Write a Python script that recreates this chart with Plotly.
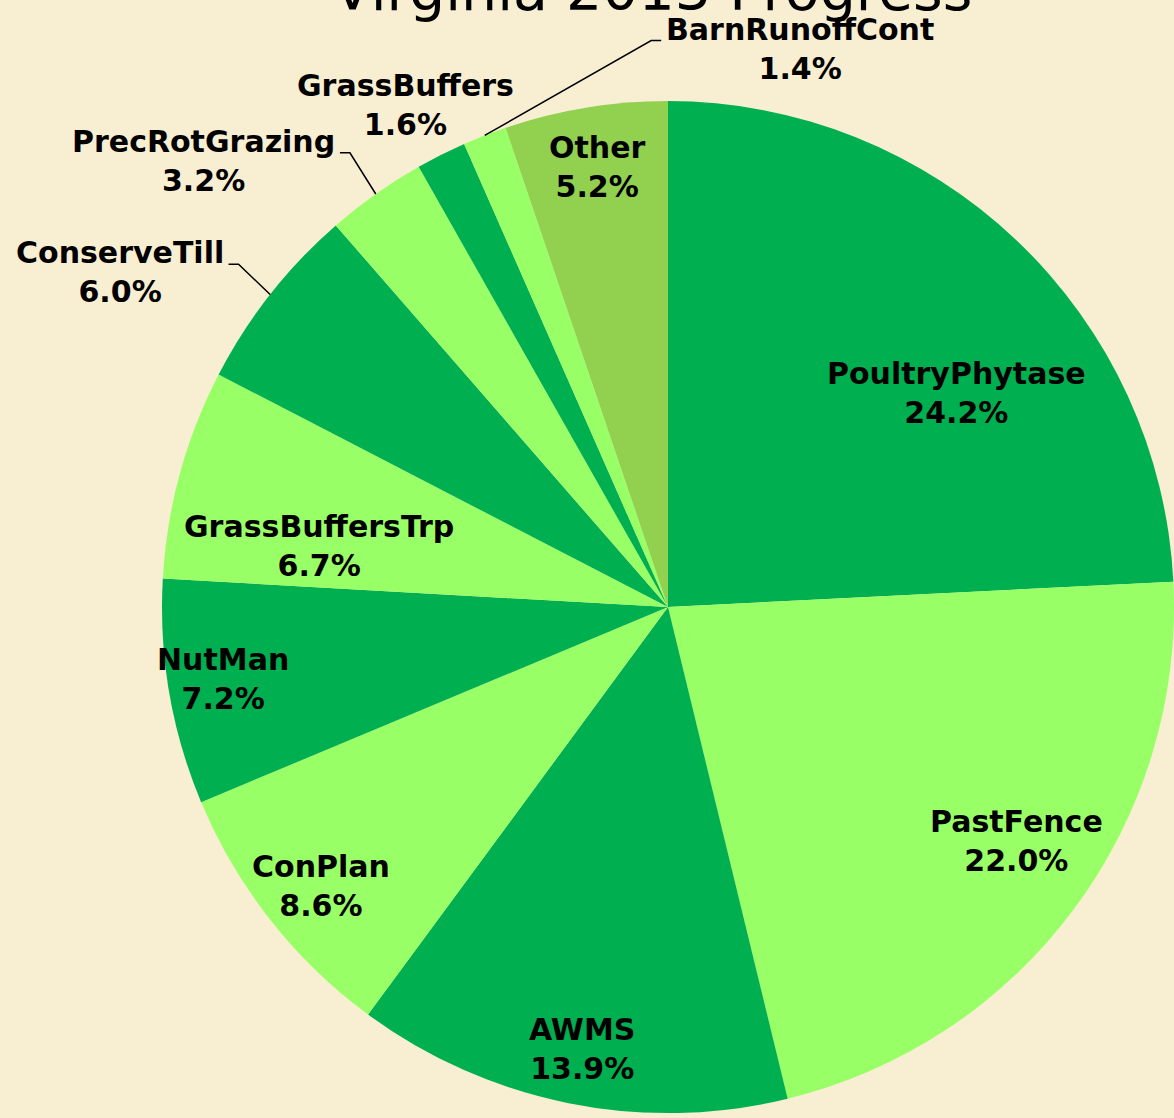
import numpy as np
import plotly.graph_objects as go

# ---------------- data ----------------
categories = ["PoultryPhytase", "PastFence", "AWMS", "ConPlan", "NutMan",
              "GrassBuffersTrp", "ConserveTill", "PrecRotGrazing",
              "GrassBuffers", "BarnRunoffCont", "Other"]
shares = [24.2, 22.0, 13.9, 8.6, 7.2, 6.7, 6.0, 3.2, 1.6, 1.4, 5.2]
title_text = "Virginia 2013 Progress"

# ---------------- style ----------------
DARK, LIGHT, OTHER = "#00B050", "#99FF66", "#92D050"
slice_colors = [DARK, LIGHT, DARK, LIGHT, DARK, LIGHT, DARK, LIGHT, DARK, LIGHT, OTHER]
BG = "#F8EED2"
FONT = "DejaVu Sans"
W, H = 1174, 1118
dom_x = [0.138, 1.0]
dom_y = [0.0, 0.914]

# label placement: (radius factor, angle nudge in degrees)
label_place = {
    "PoultryPhytase": (0.71, 9.8),
    "PastFence": (0.83, -2.9),
    "AWMS": (0.89, -0.3),
    "ConPlan": (0.88, -0.6),
    "NutMan": (0.89, 0.5),
    "GrassBuffersTrp": (0.70, -5.3),
    "GrassBuffers": (1.12, -0.9),
    "Other": (0.88, 0.2),
}
# labels with leader lines: (elbow radius factor, elbow angle deg, side)
leader_place = {
    "ConserveTill": (1.086, 308.6, -1),
    "PrecRotGrazing": (1.096, 325.0, -1),
    "BarnRunoffCont": (1.120, 358.3, 1),
}

# ---------------- geometry helpers ----------------
cx = W * (dom_x[0] + dom_x[1]) / 2
cy = H * (1 - (dom_y[0] + dom_y[1]) / 2)
R = min(W * (dom_x[1] - dom_x[0]), H * (dom_y[1] - dom_y[0])) / 2


def pt(rf, ang):
    t = np.deg2rad(ang)
    return cx + rf * R * np.sin(t), cy - rf * R * np.cos(t)


def px2paper(x, y):
    return x / W, 1 - y / H


total = sum(shares)
cum = np.cumsum(shares)
mid_angles = [(c - v / 2) / total * 360 for c, v in zip(cum, shares)]

fig = go.Figure(go.Pie(
    labels=categories, values=shares, sort=False, direction="clockwise",
    rotation=0, marker=dict(colors=slice_colors, line=dict(width=0)),
    textinfo="none", hoverinfo="label+percent", showlegend=False,
    domain=dict(x=dom_x, y=dom_y),
))

annotations = []
shapes = []
for cat, v, mid in zip(categories, shares, mid_angles):
    txt = f"<b>{cat}</b><br><b>{v / total * 100:.1f}%</b>"
    if cat in label_place:
        rf, nudge = label_place[cat]
        x, y = pt(rf, mid + nudge)
        xp, yp = px2paper(x, y)
        annotations.append(dict(x=xp, y=yp, xref="paper", yref="paper", text=txt,
                                showarrow=False, xanchor="center", yanchor="middle",
                                align="center", font=dict(family=FONT, size=30, color="black")))
    elif cat in leader_place:
        rf, ang, side = leader_place[cat]
        sx, sy = pt(1.0, mid)
        ex, ey = pt(rf, ang)
        tx = ex + side * 10
        path_pts = [px2paper(sx, sy), px2paper(ex, ey), px2paper(tx, ey)]
        path = "M " + " L ".join(f"{a},{b}" for a, b in path_pts)
        shapes.append(dict(type="path", path=path, xref="paper", yref="paper",
                           line=dict(color="black", width=1.5)))
        lx, ly = px2paper(tx + side * 3, ey + 8)
        annotations.append(dict(x=lx, y=ly, xref="paper", yref="paper", text=txt,
                                showarrow=False, xanchor="right" if side < 0 else "left",
                                yanchor="middle", align="center",
                                font=dict(family=FONT, size=30, color="black")))

# title (mostly cropped above the page)
tx_, ty_ = px2paper(652, 25)
annotations.append(dict(x=tx_, y=ty_, xref="paper", yref="paper", text=title_text,
                        showarrow=False, xanchor="center", yanchor="bottom",
                        font=dict(family=FONT, size=57, color="black")))

fig.update_layout(
    width=W, height=H, margin=dict(l=0, r=0, t=0, b=0),
    paper_bgcolor=BG, plot_bgcolor=BG,
    annotations=annotations, shapes=shapes,
)

fig.write_html("out.html", config={"displayModeBar": False},
               post_script="document.body.style.margin='0';document.body.style.overflow='hidden';")
